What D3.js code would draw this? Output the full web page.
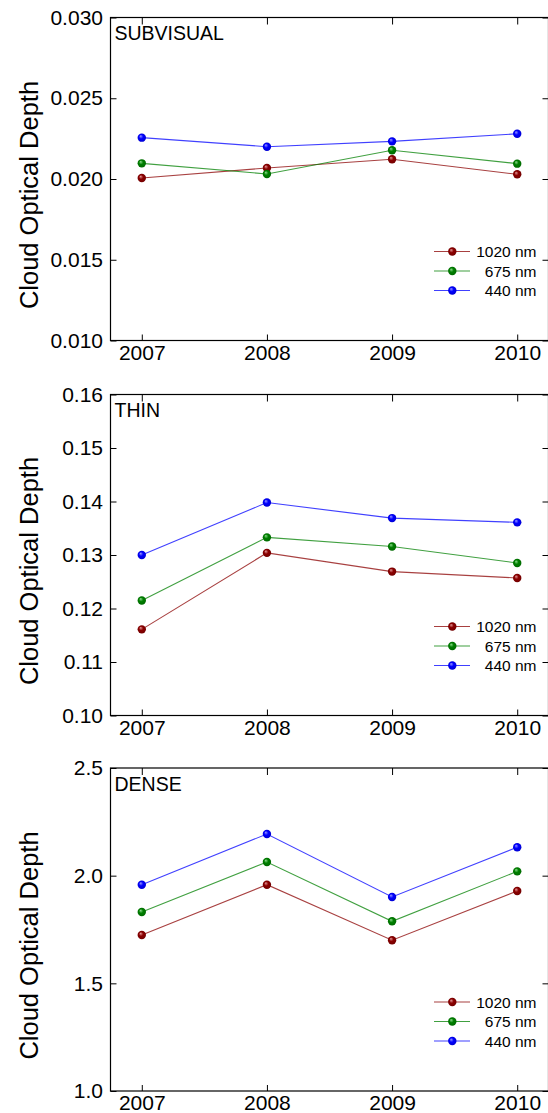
<!DOCTYPE html>
<html><head><meta charset="utf-8">
<script src="https://cdn.jsdelivr.net/npm/d3@7"></script>
<style>
html,body{margin:0;padding:0;background:#fff;}
svg{display:block;font-family:Arial,"Liberation Sans",sans-serif;}
</style></head>
<body>
<svg id="chart" width="548" height="1113"></svg>
<script>
const years = [2007, 2008, 2009, 2010];
const seriesNames = ["1020 nm", "675 nm", "440 nm"];
const seriesColors = ["#8b0000", "#008000", "#0000ff"];
const seriesHighlights = ["#e49a9a", "#8fdc8f", "#9a9aff"];

const panelTitles = ["SUBVISUAL", "THIN", "DENSE"];

const subvisual1020 = [0.02006, 0.02068, 0.02122, 0.02029];
const subvisual675  = [0.02097, 0.02031, 0.02178, 0.02095];
const subvisual440  = [0.02256, 0.02200, 0.02233, 0.02280];

const thin1020 = [0.1161, 0.1304, 0.1269, 0.1257];
const thin675  = [0.1215, 0.1333, 0.1316, 0.1285];
const thin440  = [0.1300, 0.1398, 0.1369, 0.1361];

const dense1020 = [1.7245, 1.958, 1.700, 1.929];
const dense675  = [1.831, 2.0635, 1.788, 2.020];
const dense440  = [1.958, 2.1935, 1.901, 2.132];

const subvisualTicks = [0.010, 0.015, 0.020, 0.025, 0.030];
const thinTicks = [0.10, 0.11, 0.12, 0.13, 0.14, 0.15, 0.16];
const denseTicks = [1.0, 1.5, 2.0, 2.5];

const panels = [
  {title: panelTitles[0], series: [subvisual1020, subvisual675, subvisual440], ticks: subvisualTicks, fmt: ".3f", top: 17.5, bottom: 340.5},
  {title: panelTitles[1], series: [thin1020, thin675, thin440], ticks: thinTicks, fmt: ".2f", top: 394.5, bottom: 715.5},
  {title: panelTitles[2], series: [dense1020, dense675, dense440], ticks: denseTicks, fmt: ".1f", top: 768, bottom: 1091}
];

const svg = d3.select("#chart");
const defs = svg.append("defs");
seriesColors.forEach((c, i) => {
  const g = defs.append("radialGradient").attr("id", "ball" + i)
    .attr("cx", "50%").attr("cy", "50%").attr("r", "55%")
    .attr("fx", "35%").attr("fy", "30%");
  g.append("stop").attr("offset", "0%").attr("stop-color", seriesHighlights[i]);
  g.append("stop").attr("offset", "45%").attr("stop-color", c);
  g.append("stop").attr("offset", "100%").attr("stop-color", d3.color(c).darker(0.6));
});

const left = 110.5, right = 548.5;
const x = d3.scaleLinear().domain([2006.75, 2010.25]).range([left, right]);

panels.forEach(p => {
  const y = d3.scaleLinear().domain([p.ticks[0], p.ticks[p.ticks.length - 1]]).range([p.bottom, p.top]);
  const g = svg.append("g");

  const axL = g.append("g").attr("transform", `translate(${left},0)`)
    .call(d3.axisLeft(y).tickValues(p.ticks).tickFormat(d3.format(p.fmt)).tickSize(-6).tickPadding(7.5));
  const axR = g.append("g").attr("transform", `translate(${right},0)`)
    .call(d3.axisRight(y).tickValues(p.ticks).tickFormat("").tickSize(-6));
  const axB = g.append("g").attr("transform", `translate(0,${p.bottom})`)
    .call(d3.axisBottom(x).tickValues(years).tickFormat(d3.format("d")).tickSize(-6).tickPadding(4.5));
  const axT = g.append("g").attr("transform", `translate(0,${p.top})`)
    .call(d3.axisTop(x).tickValues(years).tickFormat("").tickSize(-7));
  [axL, axR, axB, axT].forEach(a => {
    a.select(".domain").remove();
    a.selectAll("line").attr("stroke", "#000").attr("stroke-width", 1);
    a.selectAll("text").attr("fill", "#000").attr("font-size", "21px")
      .attr("font-family", "Arial, 'Liberation Sans', sans-serif");
  });

  g.append("rect").attr("x", left).attr("y", p.top)
    .attr("width", right - left).attr("height", p.bottom - p.top)
    .attr("fill", "none").attr("stroke", "#000").attr("stroke-width", 1.2);

  g.append("text")
    .attr("transform", `translate(37.5,${(p.top + p.bottom) / 2 + 16}) rotate(-90)`)
    .attr("text-anchor", "middle").attr("font-size", "25.5px").attr("fill", "#000")
    .text("Cloud Optical Depth");

  g.append("text").attr("x", left + 4).attr("y", p.top + 22.5)
    .attr("font-size", "19.5px").attr("fill", "#000").text(p.title);

  const line = d3.line().x((d, i) => x(years[i])).y(d => y(d));
  p.series.forEach((vals, si) => {
    g.append("path").datum(vals).attr("d", line)
      .attr("fill", "none").attr("stroke", seriesColors[si])
      .attr("stroke-opacity", 0.75).attr("stroke-width", 1.1);
  });
  p.series.forEach((vals, si) => {
    g.selectAll(null).data(vals).enter().append("circle")
      .attr("cx", (d, i) => x(years[i])).attr("cy", d => y(d)).attr("r", 4.2)
      .attr("fill", `url(#ball${si})`);
  });

  const legOffsets = [-89, -69.5, -50];
  seriesNames.forEach((name, si) => {
    const ly = p.bottom + legOffsets[si];
    g.append("line").attr("x1", 434).attr("x2", 470).attr("y1", ly).attr("y2", ly)
      .attr("stroke", seriesColors[si]).attr("stroke-opacity", 0.75).attr("stroke-width", 1.1);
    g.append("circle").attr("cx", 452.3).attr("cy", ly).attr("r", 4.2).attr("fill", `url(#ball${si})`);
    g.append("text").attr("x", 536.5).attr("y", ly + 5.5).attr("text-anchor", "end")
      .attr("font-size", "15.5px").attr("fill", "#000").text(name);
  });
});
</script>
</body></html>
